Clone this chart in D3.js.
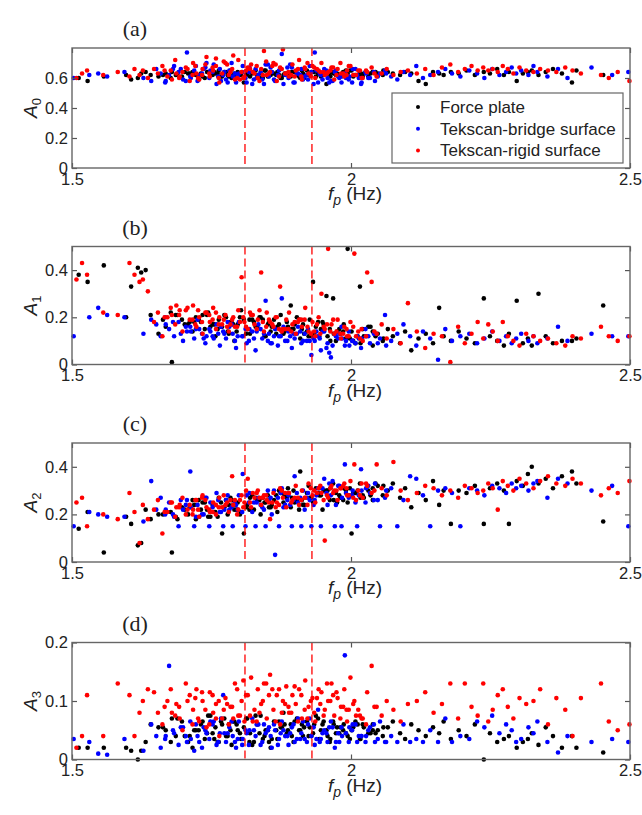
<!DOCTYPE html>
<html>
<head>
<meta charset="utf-8">
<script src="https://cdn.jsdelivr.net/npm/d3@7/dist/d3.min.js"></script>
<style>
  html, body { margin: 0; padding: 0; background: #fff; }
  svg { display: block; }
  .tick text { font-family: "Liberation Sans", Arial, sans-serif; font-size: 16.5px; fill: #222; }
</style>
</head>
<body>
<svg id="chart" width="642" height="815"></svg>
<script>
// Step-frequency band marked by dashed lines (Hz)
const fpBand = [1.81, 1.93];

// Force plate
const fpForce = [
  1.512,1.528,1.557,1.597,1.606,1.618,1.624,1.632,1.641,1.655,
  1.668,1.679,1.686,1.697,1.708,1.716,1.722,1.731,1.738,1.744,
  1.752,1.757,1.763,1.769,1.773,1.779,1.786,1.791,1.797,1.803,
  1.808,1.814,1.819,1.826,1.832,1.838,1.845,1.851,1.856,1.862,
  1.868,1.874,1.879,1.885,1.892,1.897,1.903,1.909,1.914,1.921,
  1.926,1.932,1.937,1.943,1.949,1.956,1.962,1.968,1.973,1.981,
  1.987,1.994,2.001,2.008,2.016,2.023,2.031,2.039,2.048,2.057,
  2.066,2.075,2.088,2.097,2.108,2.121,2.134,2.147,2.158,2.166,
  2.179,2.193,2.207,2.222,2.238,2.249,2.262,2.274,2.283,2.297,
  2.308,2.317,2.324,2.336,2.349,2.362,2.378,2.396,2.404,2.452,
  1.663,1.702,1.734,1.761,1.784,1.812,1.836,1.858,1.881,1.907,
  1.929,1.951,1.975,1.998,2.021,2.044,1.677,1.719,1.748,1.776,
  1.795,1.823,1.847,1.871,1.894,1.916,1.941,1.963,1.986,2.012,
  2.035,2.058,1.689,1.727,1.755,1.781,1.801,1.829,1.853,1.876,
  1.899,1.924,1.946,1.969,1.991,2.017,2.039,1.711,1.767,1.818,
  1.866,1.912,1.958,2.004,1.742,1.789,1.842,1.887,1.934,1.979];
const a0Force = [
  .60,.58,.61,.62,.59,.60,.63,.64,.62,.61,
  .63,.64,.62,.61,.63,.64,.62,.63,.60,.64,
  .62,.63,.65,.61,.64,.62,.60,.63,.64,.62,
  .57,.63,.61,.64,.62,.63,.65,.61,.62,.63,
  .64,.60,.62,.63,.61,.64,.62,.60,.63,.65,
  .62,.64,.61,.63,.62,.56,.63,.64,.62,.61,
  .64,.63,.65,.62,.64,.63,.61,.64,.63,.62,
  .64,.63,.62,.64,.63,.58,.56,.64,.63,.62,
  .64,.63,.65,.62,.64,.63,.66,.62,.64,.58,
  .63,.64,.65,.62,.64,.66,.63,.57,.65,.62,
  .62,.64,.61,.63,.65,.62,.60,.64,.63,.61,
  .64,.62,.63,.65,.61,.64,.60,.63,.62,.64,
  .61,.63,.65,.62,.64,.60,.63,.61,.64,.62,
  .63,.65,.62,.59,.64,.61,.63,.65,.62,.60,
  .64,.62,.61,.63,.65,.62,.64,.63,.61,.64,
  .62,.65,.63,.61,.64,.62,.60,.63,.64,.62];
const a1Force = [
  .38,.35,.42,.20,.33,.41,.39,.40,.21,.13,
  .16,.01,.21,.19,.17,.14,.20,.18,.15,.22,
  .17,.12,.19,.16,.21,.14,.18,.10,.17,.23,
  .19,.15,.13,.18,.16,.20,.12,.17,.14,.19,
  .16,.21,.13,.18,.25,.15,.20,.11,.17,.14,
  .19,.35,.16,.12,.18,.29,.15,.28,.10,.13,
  .17,.49,.14,.09,.33,.12,.16,.08,.13,.10,
  .15,.12,.09,.14,.06,.11,.13,.09,.24,.12,
  .10,.14,.11,.09,.28,.12,.10,.08,.13,.27,
  .09,.11,.08,.30,.12,.09,.10,.10,.11,.25,
  .19,.17,.21,.15,.18,.13,.20,.16,.14,.19,
  .12,.17,.14,.11,.15,.12,.22,.18,.16,.20,
  .14,.19,.12,.17,.15,.13,.18,.10,.14,.12,
  .16,.11,.21,.19,.17,.13,.20,.16,.18,.14,
  .17,.12,.15,.13,.11,.09,.14,.18,.16,.19,
  .13,.15,.12,.10,.21,.17,.19,.16,.13,.15];
const a2Force = [
  .14,.21,.04,.19,.16,.07,.08,.22,.18,.20,
  .21,.04,.19,.23,.20,.26,.18,.22,.25,.19,
  .24,.21,.27,.12,.23,.20,.26,.22,.25,.21,
  .12,.24,.27,.22,.26,.20,.25,.28,.23,.26,
  .21,.29,.25,.27,.23,.30,.26,.38,.24,.29,
  .27,.25,.31,.28,.22,.30,.26,.33,.29,.27,
  .31,.25,.12,.29,.33,.27,.30,.26,.32,.28,
  .30,.33,.27,.31,.23,.29,.26,.34,.24,.30,
  .16,.30,.29,.32,.16,.31,.33,.30,.16,.34,
  .32,.37,.40,.33,.35,.31,.36,.38,.33,.17,
  .20,.22,.25,.19,.27,.23,.26,.24,.28,.22,
  .27,.30,.25,.31,.28,.33,.21,.24,.19,.26,
  .22,.28,.25,.30,.27,.24,.29,.31,.26,.30,
  .28,.32,.18,.26,.21,.24,.20,.27,.23,.29,
  .25,.32,.28,.26,.30,.27,.31,.23,.25,.22,
  .28,.26,.30,.29,.22,.24,.27,.31,.25,.28];
const a3Force = [
  .02,.02,.02,.02,.015,.00,.015,.03,.06,.055,
  .05,.07,.04,.065,.03,.02,.05,.06,.035,.075,
  .045,.055,.03,.06,.07,.04,.025,.065,.05,.035,
  .055,.07,.045,.03,.06,.075,.04,.05,.02,.065,
  .035,.055,.08,.045,.06,.03,.07,.05,.04,.065,
  .055,.045,.075,.035,.06,.05,.03,.065,.045,.055,
  .06,.04,.05,.065,.035,.055,.045,.06,.05,.04,
  .055,.065,.045,.035,.06,.05,.04,.055,.045,.065,
  .035,.05,.04,.06,.00,.045,.03,.035,.04,.02,
  .03,.035,.045,.025,.055,.04,.02,.04,.02,.012,
  .055,.04,.065,.03,.05,.07,.045,.035,.06,.05,
  .04,.065,.055,.035,.06,.045,.03,.05,.075,.04,
  .06,.025,.05,.065,.04,.055,.07,.035,.05,.06,
  .045,.055,.07,.05,.035,.06,.045,.075,.03,.055,
  .065,.04,.05,.06,.045,.035,.05,.04,.065,.03,
  .05,.06,.04,.055,.045,.065,.035,.05,.06,.045];

// Tekscan on the bridge surface
const fpBridge = [
  1.503,1.531,1.547,1.563,1.594,1.628,1.642,1.651,1.659,1.667,
  1.674,1.683,1.691,1.699,1.706,1.712,1.719,1.725,1.733,1.739,
  1.746,1.752,1.759,1.765,1.771,1.776,1.782,1.788,1.794,1.799,
  1.806,1.811,1.817,1.823,1.829,1.834,1.841,1.847,1.853,1.858,
  1.864,1.871,1.876,1.882,1.888,1.894,1.899,1.905,1.911,1.917,
  1.923,1.929,1.935,1.941,1.946,1.952,1.958,1.964,1.971,1.977,
  1.983,1.989,1.996,2.003,2.011,2.018,2.026,2.034,2.043,2.052,
  2.061,2.072,2.083,2.094,2.106,2.117,2.129,2.142,2.156,2.169,
  2.181,2.196,2.212,2.226,2.239,2.253,2.266,2.278,2.288,2.296,
  2.305,2.318,2.327,2.334,2.352,2.371,2.388,2.431,2.468,2.497,
  1.668,1.695,1.728,1.754,1.779,1.805,1.831,1.856,1.879,1.903,
  1.926,1.949,1.973,1.997,2.019,2.041,1.681,1.713,1.741,1.767,
  1.792,1.818,1.844,1.869,1.891,1.914,1.938,1.961,1.984,2.008,
  2.031,2.063,1.704,1.736,1.762,1.786,1.813,1.838,1.862,1.886,
  1.909,1.933,1.956,1.979,2.002,2.027,2.048,1.722,1.773,1.826,
  1.874,1.921,1.967,2.014,1.748,1.797,1.851,1.897,1.944,1.991];
const a0Bridge = [
  .60,.62,.63,.61,.64,.60,.58,.66,.63,.57,
  .62,.68,.64,.59,.77,.61,.65,.58,.63,.67,
  .60,.64,.56,.66,.62,.59,.65,.61,.57,.63,
  .68,.60,.64,.56,.66,.62,.59,.69,.61,.64,
  .58,.65,.76,.62,.60,.67,.57,.63,.66,.61,
  .59,.64,.77,.57,.62,.66,.60,.58,.64,.61,
  .57,.63,.59,.66,.62,.56,.64,.60,.58,.63,
  .65,.61,.59,.64,.62,.68,.60,.62,.64,.66,
  .63,.61,.65,.63,.60,.66,.62,.64,.67,.63,
  .65,.62,.68,.64,.61,.66,.60,.67,.62,.64,
  .58,.66,.62,.69,.57,.64,.60,.67,.56,.63,
  .68,.59,.65,.61,.57,.64,.66,.60,.70,.58,
  .63,.67,.56,.62,.69,.59,.65,.57,.61,.66,
  .60,.63,.58,.66,.61,.70,.57,.64,.59,.67,
  .62,.56,.65,.60,.57,.63,.61,.68,.64,.59,
  .66,.62,.58,.60,.65,.61,.69,.57,.63,.60];
const a1Bridge = [
  .12,.20,.24,.21,.20,.13,.19,.17,.12,.20,
  .15,.12,.18,.10,.14,.16,.11,.19,.13,.09,
  .15,.12,.17,.08,.14,.11,.16,.13,.07,.18,
  .12,.15,.10,.14,.06,.17,.11,.27,.13,.09,
  .15,.12,.28,.10,.14,.07,.11,.16,.09,.13,
  .15,.04,.10,.12,.06,.14,.09,.03,.13,.11,
  .16,.08,.14,.10,.12,.07,.15,.09,.13,.11,
  .21,.10,.13,.17,.12,.08,.14,.11,.02,.15,
  .10,.12,.13,.09,.11,.14,.10,.12,.09,.11,
  .13,.10,.12,.09,.11,.16,.10,.13,.12,.12,
  .17,.13,.15,.11,.18,.12,.14,.09,.16,.13,
  .10,.14,.12,.08,.11,.13,.18,.14,.12,.16,
  .10,.15,.13,.08,.12,.10,.14,.05,.11,.09,
  .12,.08,.16,.11,.13,.17,.09,.15,.12,.10,
  .14,.11,.07,.13,.10,.12,.09,.15,.13,.11,
  .12,.10,.08,.11,.14,.12,.10,.13,.11,.10];
const a2Bridge = [
  .15,.21,.20,.19,.19,.17,.34,.22,.27,.20,
  .25,.19,.15,.22,.26,.38,.15,.24,.20,.27,
  .15,.23,.29,.21,.15,.26,.22,.15,.24,.28,
  .37,.15,.25,.21,.15,.27,.23,.15,.26,.20,
  .03,.15,.31,.24,.28,.15,.36,.25,.15,.22,
  .29,.15,.26,.31,.15,.35,.24,.28,.15,.32,
  .15,.41,.27,.30,.15,.39,.25,.29,.33,.15,
  .27,.31,.15,.26,.36,.35,.28,.15,.30,.31,
  .29,.15,.31,.30,.28,.32,.31,.29,.33,.31,
  .32,.30,.33,.34,.27,.35,.33,.30,.32,.15,
  .22,.26,.19,.24,.28,.21,.25,.27,.23,.29,
  .26,.31,.24,.28,.30,.26,.20,.23,.27,.21,
  .25,.29,.22,.27,.24,.30,.28,.33,.27,.25,
  .32,.30,.24,.20,.26,.23,.28,.24,.30,.26,
  .27,.24,.29,.32,.28,.31,.26,.19,.22,.25,
  .29,.27,.34,.28,.25,.22,.30,.26,.31,.29];
const a3Bridge = [
  .035,.03,.01,.008,.035,.015,.06,.04,.02,.035,
  .16,.045,.025,.055,.03,.065,.015,.04,.02,.05,
  .035,.06,.025,.045,.11,.03,.055,.04,.02,.065,
  .035,.05,.025,.07,.04,.06,.03,.045,.055,.02,
  .05,.035,.065,.04,.025,.055,.03,.07,.045,.035,
  .06,.04,.025,.085,.035,.05,.03,.065,.02,.045,
  .055,.178,.03,.06,.03,.04,.03,.055,.03,.065,
  .03,.04,.03,.06,.03,.035,.03,.05,.03,.07,
  .03,.04,.035,.065,.055,.075,.045,.06,.05,.03,
  .035,.055,.045,.065,.03,.012,.04,.03,.035,.03,
  .04,.055,.03,.065,.045,.025,.06,.04,.05,.035,
  .07,.045,.03,.055,.04,.06,.05,.035,.045,.07,
  .03,.05,.06,.025,.045,.065,.035,.055,.04,.06,
  .05,.03,.04,.055,.03,.065,.045,.025,.06,.04,
  .035,.055,.045,.03,.05,.04,.035,.06,.045,.05,
  .045,.03,.055,.04,.065,.035,.05,.06,.03,.045];

// Tekscan on the rigid surface
const fpRigid = [
  1.508,1.518,1.527,1.556,1.582,1.603,1.612,1.621,1.627,1.636,
  1.647,1.654,1.662,1.671,1.677,1.685,1.692,1.698,1.704,1.711,
  1.717,1.723,1.728,1.734,1.741,1.747,1.753,1.758,1.764,1.769,
  1.775,1.781,1.787,1.792,1.798,1.804,1.809,1.815,1.821,1.827,
  1.833,1.839,1.844,1.849,1.855,1.861,1.867,1.873,1.878,1.884,
  1.889,1.895,1.901,1.907,1.912,1.918,1.924,1.931,1.936,1.942,
  1.947,1.953,1.959,1.965,1.970,1.976,1.982,1.988,1.993,1.999,
  2.006,2.013,2.021,2.029,2.037,2.046,2.055,2.064,2.076,2.089,
  2.102,2.118,2.133,2.148,2.163,2.178,2.192,2.204,2.216,2.227,
  2.237,2.246,2.254,2.263,2.272,2.281,2.291,2.302,2.314,2.327,
  2.339,2.353,2.368,2.384,2.397,2.412,2.448,2.462,2.478,2.499,
  1.666,1.693,1.721,1.746,1.772,1.796,1.819,1.842,1.865,1.888,
  1.911,1.934,1.957,1.981,2.004,2.027,1.679,1.707,1.733,1.758,
  1.784,1.807,1.831,1.853,1.876,1.899,1.922,1.945,1.968,1.992,
  2.016,2.042,1.716,1.739,1.763,1.789,1.812,1.836,1.859,1.882,
  1.905,1.928,1.951,1.974,1.996,2.019,1.687,1.752,1.801,1.848,
  1.893,1.939,1.986,1.726,1.778,1.824,1.871,1.917,1.963,2.009];
const a0Rigid = [
  .60,.63,.65,.62,.64,.61,.66,.62,.65,.60,
  .66,.63,.68,.61,.65,.72,.60,.64,.67,.58,
  .70,.63,.59,.66,.74,.61,.65,.68,.57,.63,
  .70,.62,.66,.59,.72,.64,.61,.67,.69,.63,
  .60,.66,.78,.62,.64,.70,.58,.67,.79,.63,
  .61,.69,.65,.72,.59,.66,.63,.68,.60,.65,
  .70,.62,.64,.67,.59,.66,.63,.61,.65,.68,
  .62,.65,.60,.64,.67,.61,.63,.66,.62,.64,
  .65,.63,.66,.62,.67,.69,.64,.66,.68,.65,
  .67,.65,.66,.64,.68,.66,.63,.67,.65,.64,
  .66,.65,.64,.67,.65,.63,.62,.60,.64,.58,
  .65,.61,.68,.63,.71,.60,.66,.62,.69,.64,
  .61,.67,.63,.70,.62,.65,.59,.66,.62,.73,
  .64,.60,.68,.63,.66,.61,.70,.64,.67,.62,
  .65,.63,.62,.69,.60,.75,.65,.58,.68,.63,
  .66,.61,.64,.62,.68,.60,.63,.67,.59,.71,
  .62,.66,.63,.60,.69,.64,.61,.67,.65,.62];
const a1Rigid = [
  .36,.43,.38,.22,.21,.43,.38,.35,.36,.31,
  .18,.22,.12,.20,.24,.17,.21,.14,.23,.19,
  .25,.16,.20,.13,.22,.18,.24,.15,.20,.17,
  .21,.14,.19,.16,.23,.37,.18,.15,.21,.17,
  .19,.39,.14,.22,.18,.16,.20,.33,.15,.19,
  .22,.17,.13,.19,.16,.24,.14,.18,.12,.20,
  .30,.15,.49,.17,.13,.19,.11,.16,.12,.18,
  .47,.14,.10,.39,.35,.13,.17,.11,.15,.09,
  .26,.14,.07,.13,.12,.01,.16,.09,.13,.18,
  .11,.17,.14,.10,.18,.12,.10,.08,.13,.12,
  .10,.11,.09,.08,.12,.11,.16,.12,.10,.12,
  .20,.23,.17,.21,.19,.16,.22,.18,.20,.15,
  .19,.14,.17,.13,.16,.12,.21,.24,.18,.22,
  .17,.20,.15,.19,.14,.18,.16,.13,.19,.15,
  .11,.14,.19,.22,.17,.20,.16,.23,.17,.15,
  .18,.13,.16,.14,.12,.15,.25,.19,.18,.16,
  .14,.17,.13,.23,.16,.21,.15,.19,.14,.12];
const a2Rigid = [
  .25,.27,.15,.20,.18,.29,.21,.08,.24,.18,
  .22,.26,.12,.21,.25,.19,.23,.27,.20,.24,
  .22,.26,.19,.28,.23,.21,.25,.20,.27,.23,
  .24,.21,.36,.26,.22,.28,.25,.35,.23,.27,
  .30,.24,.28,.26,.18,.29,.25,.31,.27,.23,
  .29,.26,.32,.24,.30,.27,.33,.28,.25,.31,
  .29,.09,.27,.32,.30,.26,.31,.33,.28,.34,
  .41,.30,.27,.32,.29,.41,.31,.28,.42,.30,
  .26,.29,.32,.31,.28,.30,.27,.32,.31,.29,
  .30,.33,.31,.22,.34,.32,.30,.35,.33,.31,
  .34,.36,.33,.32,.35,.33,.28,.31,.29,.34,
  .21,.24,.26,.22,.28,.20,.25,.27,.23,.29,
  .26,.30,.28,.31,.27,.33,.25,.22,.27,.24,
  .26,.23,.29,.25,.30,.27,.24,.32,.29,.31,
  .28,.30,.20,.26,.23,.24,.30,.27,.25,.29,
  .27,.31,.26,.30,.28,.33,.23,.21,.26,.28,
  .25,.29,.32,.22,.25,.29,.24,.27,.31,.26];
const a3Rigid = [
  .02,.04,.11,.04,.13,.11,.04,.08,.10,.12,
  .115,.08,.06,.10,.12,.075,.09,.05,.13,.11,
  .085,.12,.065,.10,.055,.115,.08,.095,.04,.07,
  .105,.06,.09,.13,.075,.10,.065,.11,.14,.085,
  .12,.095,.13,.07,.145,.085,.11,.06,.10,.125,
  .08,.11,.095,.12,.07,.135,.09,.105,.065,.12,
  .115,.085,.10,.13,.075,.105,.09,.12,.065,.14,
  .10,.085,.07,.115,.16,.09,.075,.10,.085,.065,
  .095,.10,.115,.08,.095,.13,.07,.13,.09,.075,
  .13,.065,.085,.11,.12,.09,.07,.105,.095,.10,
  .12,.06,.105,.085,.04,.105,.13,.065,.05,.06,
  .09,.07,.105,.06,.085,.12,.075,.10,.065,.09,
  .11,.08,.13,.07,.095,.06,.08,.10,.115,.07,
  .09,.135,.065,.11,.08,.125,.07,.095,.11,.085,
  .075,.09,.06,.085,.10,.07,.11,.08,.12,.095,
  .065,.10,.075,.115,.085,.07,.095,.11,.075,.13,
  .08,.105,.09,.07,.095,.065,.12,.085,.10,.075];

const seriesNames = ["Force plate", "Tekscan-bridge surface", "Tekscan-rigid surface"];
const xTicks = [1.5, 2, 2.5];
const yTicksA0 = [0, 0.2, 0.4, 0.6];
const yTicksA1 = [0, 0.2, 0.4];
const yTicksA2 = [0, 0.2, 0.4];
const yTicksA3 = [0, 0.1, 0.2];

const colors = ["#000000", "#0000ff", "#ff0000"];
const fps = [fpForce, fpBridge, fpRigid];

const panels = [
  { tag: "(a)", sub: "0", max: 0.8, ticks: yTicksA0, vals: [a0Force, a0Bridge, a0Rigid], top: 48, bottom: 168, legend: true },
  { tag: "(b)", sub: "1", max: 0.5, ticks: yTicksA1, vals: [a1Force, a1Bridge, a1Rigid], top: 246.5, bottom: 364.5 },
  { tag: "(c)", sub: "2", max: 0.5, ticks: yTicksA2, vals: [a2Force, a2Bridge, a2Rigid], top: 443, bottom: 562 },
  { tag: "(d)", sub: "3", max: 0.2, ticks: yTicksA3, vals: [a3Force, a3Bridge, a3Rigid], top: 642.5, bottom: 759.5 }
];

const left = 72, right = 630;
const svg = d3.select("#chart");
const x = d3.scaleLinear().domain([1.5, 2.5]).range([left, right]);
const fmt = d3.format("");

panels.forEach(p => {
  const y = d3.scaleLinear().domain([0, p.max]).range([p.bottom, p.top]);
  const g = svg.append("g");

  // points: force plate, then bridge, then rigid on top
  fps.forEach((fp, s) => {
    g.append("g").selectAll("circle")
      .data(fp.map((f, i) => [f, p.vals[s][i]]))
      .join("circle")
      .attr("cx", d => x(d[0]))
      .attr("cy", d => y(d[1]))
      .attr("r", 2.3)
      .attr("fill", colors[s]);
  });

  // dashed band limits
  g.append("g").selectAll("line")
    .data(fpBand)
    .join("line")
    .attr("x1", d => x(d)).attr("x2", d => x(d))
    .attr("y1", p.top).attr("y2", p.bottom)
    .attr("stroke", "#ff0000")
    .attr("stroke-width", 1.3)
    .attr("stroke-dasharray", "8,4");

  // axes with inward ticks on all four sides
  const axL = g.append("g").attr("transform", `translate(${left},0)`)
    .call(d3.axisLeft(y).tickValues(p.ticks).tickFormat(fmt).tickSize(-5).tickPadding(4));
  const axR = g.append("g").attr("transform", `translate(${right},0)`)
    .call(d3.axisRight(y).tickValues(p.ticks).tickFormat("").tickSize(-5));
  const axB = g.append("g").attr("transform", `translate(0,${p.bottom})`)
    .call(d3.axisBottom(x).tickValues(xTicks).tickFormat(fmt).tickSize(-5).tickPadding(5));
  const axT = g.append("g").attr("transform", `translate(0,${p.top})`)
    .call(d3.axisTop(x).tickValues(xTicks).tickFormat("").tickSize(-5));
  [axL, axR, axB, axT].forEach(a => {
    a.select(".domain").remove();
    a.selectAll(".tick line").attr("stroke", "#555").attr("stroke-width", 1.2);
  });

  g.append("rect")
    .attr("x", left).attr("y", p.top)
    .attr("width", right - left).attr("height", p.bottom - p.top)
    .attr("fill", "none").attr("stroke", "#666").attr("stroke-width", 1.4);

  // panel tag
  g.append("text")
    .attr("x", 135).attr("y", p.top - 12)
    .attr("text-anchor", "middle")
    .attr("font-family", "'Liberation Serif', 'Times New Roman', serif")
    .attr("font-size", 22).attr("fill", "#222")
    .text(p.tag);

  // x axis title: f_p (Hz)
  const xt = g.append("text")
    .attr("x", (left + right) / 2 + 4).attr("y", p.bottom + 32)
    .attr("text-anchor", "middle")
    .attr("font-family", "'Liberation Sans', Arial, sans-serif")
    .attr("font-size", 19).attr("fill", "#222");
  xt.append("tspan").attr("font-style", "italic").text("f");
  xt.append("tspan").attr("font-style", "italic").attr("font-size", 14).attr("dy", 5).text("p");
  xt.append("tspan").attr("dy", -5).text(" (Hz)");

  // y axis title: A_n
  const yt = g.append("text")
    .attr("transform", `translate(37,${(p.top + p.bottom) / 2}) rotate(-90)`)
    .attr("text-anchor", "middle")
    .attr("font-family", "'Liberation Sans', Arial, sans-serif")
    .attr("font-size", 19).attr("fill", "#222");
  yt.append("tspan").attr("font-style", "italic").text("A");
  yt.append("tspan").attr("font-size", 13).attr("dy", 4).text(p.sub);

  if (p.legend) {
    const lg = g.append("g");
    lg.append("rect")
      .attr("x", 392).attr("y", 93).attr("width", 231).attr("height", 70)
      .attr("fill", "#fff").attr("stroke", "#666").attr("stroke-width", 1.2);
    seriesNames.forEach((name, i) => {
      const yy = 107 + i * 21.7;
      lg.append("circle").attr("cx", 418).attr("cy", yy).attr("r", 2).attr("fill", colors[i]);
      lg.append("text")
        .attr("x", 440).attr("y", yy).attr("dy", "0.35em")
        .attr("font-family", "'Liberation Sans', Arial, sans-serif")
        .attr("font-size", 17).attr("fill", "#222")
        .text(name);
    });
  }
});
</script>
</body>
</html>
